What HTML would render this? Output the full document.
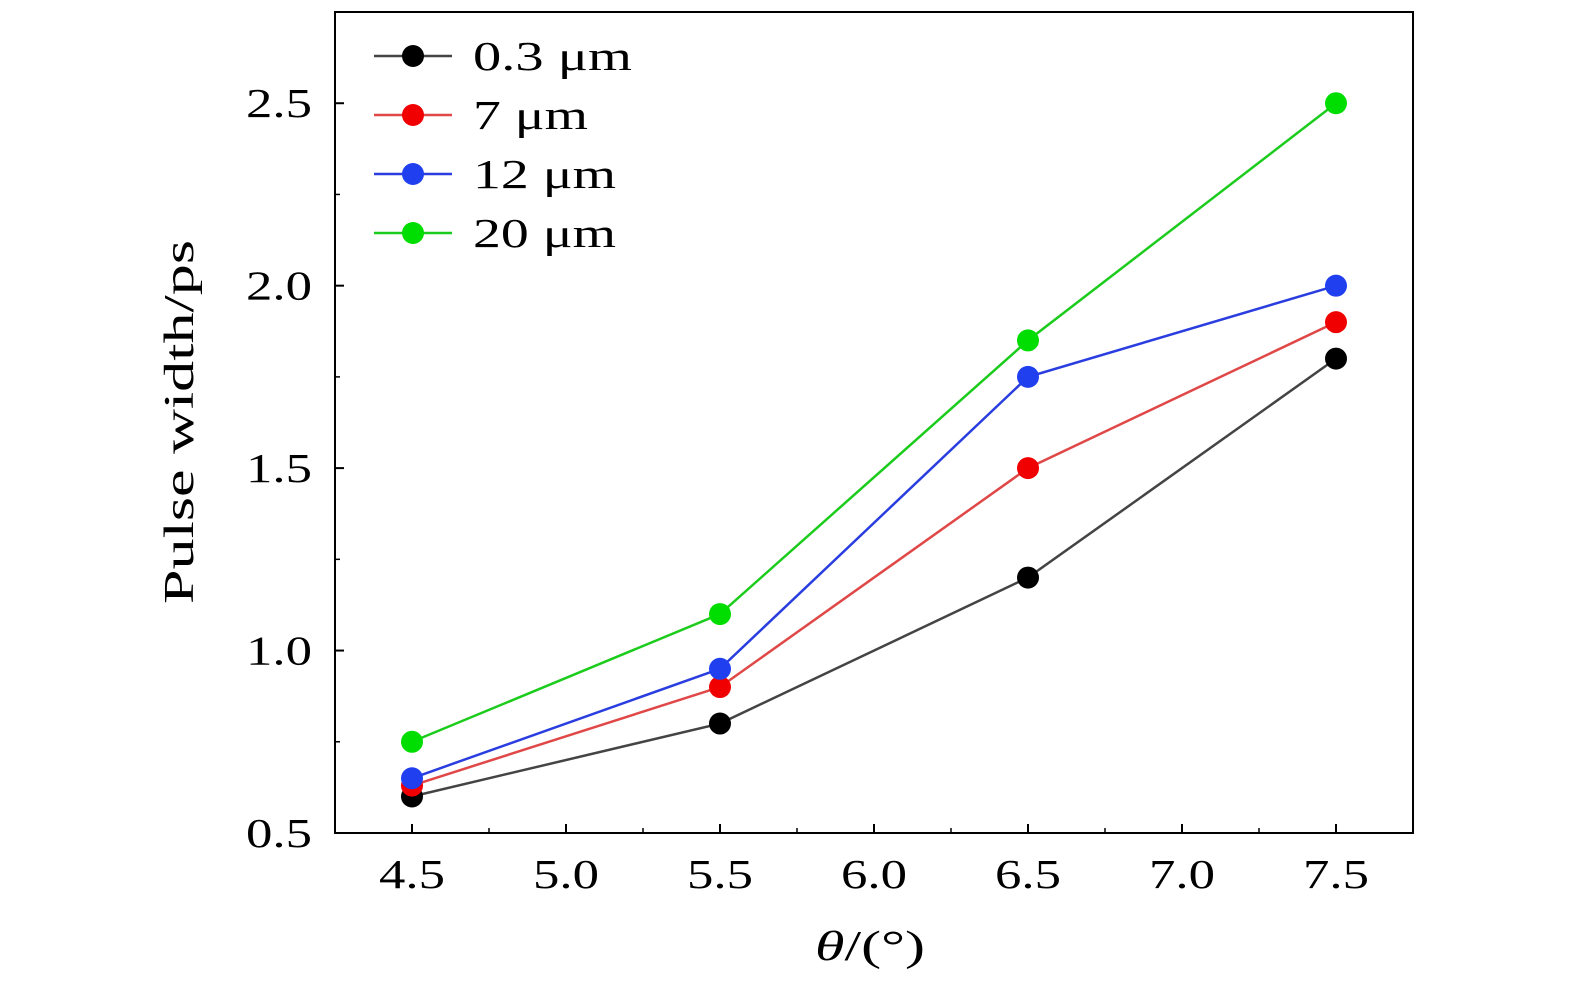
<!DOCTYPE html>
<html><head><meta charset="utf-8"><style>
body{margin:0;background:#fff;}
svg{display:block;font-family:"Liberation Serif","DejaVu Serif",serif;}
</style></head><body>
<svg id="chart" width="1575" height="984">
<rect x="335" y="12" width="1078" height="821" fill="none" stroke="#000" stroke-width="2"/>
<g id="axes"></g><g id="series"></g><g id="legend"></g>
<text x="193" y="422" font-size="42" text-anchor="middle" textLength="364" lengthAdjust="spacingAndGlyphs" transform="rotate(-90 193 422)">Pulse width/ps</text>
<text x="870" y="960" font-size="42" text-anchor="middle" textLength="110" lengthAdjust="spacingAndGlyphs"><tspan font-style="italic">θ</tspan>/(°)</text>
</svg>
<script>
const categories=[4.5,5.5,6.5,7.5];
const s03=[0.6,0.8,1.2,1.8];
const s7=[0.63,0.9,1.5,1.9];
const s12=[0.65,0.95,1.75,2.0];
const s20=[0.75,1.1,1.85,2.5];
const seriesNames=["0.3 μm","7 μm","12 μm","20 μm"];
const xTicks=["4.5","5.0","5.5","6.0","6.5","7.0","7.5"];
const yTicks=["0.5","1.0","1.5","2.0","2.5"];
const NS="http://www.w3.org/2000/svg";
const X=v=>335+(v-4.25)/3.5*1078;
const Y=v=>833-(v-0.5)/2.25*821;
function mk(tag,attrs,parent){const e=document.createElementNS(NS,tag);for(const k in attrs)e.setAttribute(k,attrs[k]);parent.appendChild(e);return e;}
const ax=document.getElementById('axes');
xTicks.forEach(t=>{const v=parseFloat(t),x=X(v);
 const l=mk('line',{x1:x,x2:x,y1:833,y2:824,stroke:'#000','stroke-width':2},ax);
 
 
 const m=mk('line',{x1:X(v+0.25),x2:X(v+0.25),y1:833,y2:828,stroke:'#000','stroke-width':1.5},ax);
 
 
 const tx=mk('text',{x:x,y:888,'font-size':41,'text-anchor':'middle',textLength:66,lengthAdjust:'spacingAndGlyphs'},ax);tx.textContent=t;
 
 
});
mk('line',{x1:X(4.25),x2:X(4.25),y1:833,y2:828,stroke:'#000','stroke-width':1.5},ax);
yTicks.forEach(t=>{const v=parseFloat(t),y=Y(v);
 const l=mk('line',{x1:335,x2:344,y1:y,y2:y,stroke:'#000','stroke-width':2},ax);
 
 
 const m=mk('line',{x1:335,x2:340,y1:Y(v+0.25),y2:Y(v+0.25),stroke:'#000','stroke-width':1.5},ax);
 
 
 const tx=mk('text',{x:312,y:y+14,'font-size':41,'text-anchor':'end',textLength:66,lengthAdjust:'spacingAndGlyphs'},ax);tx.textContent=t;
 
 
});
const data=[s03,s7,s12,s20];
const lineC=["#444","#e04848","#2a3ee0","#1ccc1c"];
const dotC=["#000","#f00000","#2040f0","#00dd00"];
const keys=["0-3um","7um","12um","20um"];
const legW=[159,115,143,143];
const sg=document.getElementById('series'),lg=document.getElementById('legend');
data.forEach((arr,i)=>{
 const g=mk('g',{},sg);
 
 
 mk('polyline',{points:arr.map((v,j)=>X(categories[j])+','+Y(v)).join(' '),fill:'none',stroke:lineC[i],'stroke-width':2.5},g);
 arr.forEach((v,j)=>{const c=mk('circle',{cx:X(categories[j]),cy:Y(v),r:11,fill:dotC[i]},g);
  
  });
 const y=56+i*59;
 const le=mk('g',{},lg);
 
 
 mk('line',{x1:374,x2:452,y1:y,y2:y,stroke:lineC[i],'stroke-width':2.5},le);
 mk('circle',{cx:413,cy:y,r:11,fill:dotC[i]},le);
 const t=mk('text',{x:473,y:y+14,'font-size':41,textLength:legW[i],lengthAdjust:'spacingAndGlyphs'},le);t.textContent=seriesNames[i];
});
</script>
</body></html>
